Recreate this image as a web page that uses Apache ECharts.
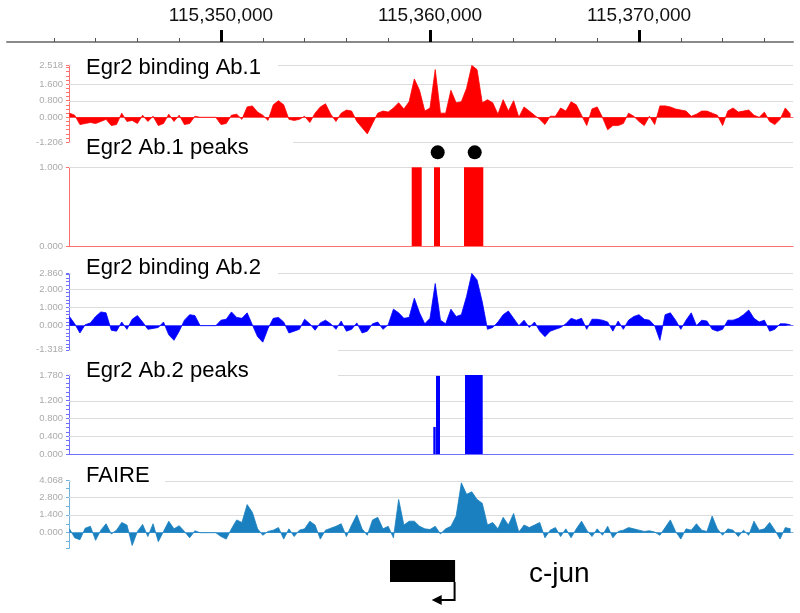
<!DOCTYPE html>
<html><head><meta charset="utf-8">
<script src="https://cdn.jsdelivr.net/npm/echarts@6/dist/echarts.min.js"></script>
<style>html,body{margin:0;padding:0;background:#fff}#c{width:800px;height:613px}</style>
</head><body><div id="c"></div>
<script>
// ---------- DATA ----------
const axisMajorTicks = [115350000, 115360000, 115370000];
const axisMinorTicks = [115342000,115344000,115346000,115348000,115352000,115354000,115356000,115358000,
  115362000,115364000,115366000,115368000,115372000,115374000,115376000];

const binStart = 115342750;   // first bin position (bp)
const binSize = 250;          // bp per bin

const signalAb1 = [
0.2,0.1,-0.35,-0.3,-0.25,-0.3,-0.2,-0.1,-0.4,-0.35,
0.2,-0.2,-0.15,-0.3,0.1,-0.2,0.05,-0.4,-0.3,0.15,
-0.2,0.1,-0.35,-0.3,0.05,0,0,0,0,-0.35,
-0.3,0.1,0.15,-0.1,0.5,0.55,0.25,0.1,-0.15,0.6,
0.8,0.6,-0.1,-0.15,-0.1,0.05,-0.25,0.2,0.5,0.65,
0.15,-0.2,0.2,0.35,0.3,-0.2,-0.5,-0.8,-0.3,0.2,
0.3,0.25,0.45,0.7,0.4,0.75,1.85,1.3,0.3,0.45,
2.3,0.2,0.2,1.3,0.7,0.75,1.4,2.5,2.3,0.7,
0.85,0.7,0.15,0.85,0.3,0.8,0,0.5,0.3,0.1,
-0.1,-0.35,0.05,0.05,0.45,0.3,0.75,0.6,0.1,-0.4,
0.4,0.5,0,-0.6,-0.4,-0.4,-0.3,0.2,0.05,-0.2,
-0.4,0.05,-0.35,0.55,0.55,0.5,0.4,0.35,0.3,0.05,
0.15,0.3,0.3,0.2,0.1,-0.4,0.3,0.45,0.25,0.3,
0.35,0.1,0,0.25,-0.2,-0.35,-0.1,0.45,0.15];

const signalAb2 = [
0.5,0.1,-0.4,0.05,0.15,0.5,0.75,0.7,-0.25,-0.3,
0.2,-0.2,0.35,0.55,0.2,-0.2,-0.15,-0.1,0.2,-0.5,
-0.8,-0.3,0.3,0.6,0.55,0,0,0,0,0.3,
0.35,0.75,0.45,0.4,0.7,0.05,-0.6,-0.9,-0.15,0.4,
0.45,0.2,-0.4,-0.3,-0.2,0.35,0.1,-0.25,0.15,0.3,
0.1,-0.2,0.25,-0.3,-0.2,0.15,-0.4,-0.3,0.1,0.2,
-0.2,0.05,0.9,0.7,0.4,0.45,1.5,0.7,0.1,0.4,
2.3,0.3,0.1,0.9,0.5,0.6,1.6,2.85,2.5,1.3,
-0.2,-0.1,0.2,0.6,0.8,0.4,0,0.3,-0.1,0.2,
-0.3,-0.6,-0.3,-0.2,-0.1,0.1,0.4,0.3,0.4,-0.2,
0.35,0.35,0.3,0.2,-0.3,0.25,-0.2,0.3,0.5,0.6,
0.35,0.3,0,-0.8,0.6,0.7,0.3,-0.2,0.3,0.7,
0,0.3,0.25,-0.2,-0.3,-0.2,0.3,0.3,0.4,0.6,
0.85,0.4,0.2,0.3,-0.3,-0.2,0.1,0.1,0.05];

const signalFaire = [
0.3,-0.4,-0.55,0.35,0.5,-0.6,0.2,0.7,-0.1,0.2,
0.8,0.6,-1.0,0.1,0.65,-0.3,0.7,-0.7,0.1,0.9,
0.3,0.55,0.1,-0.4,0.15,0,0,0,0,-0.3,
-0.5,0.3,1.0,0.8,2.2,1.6,0.3,-0.2,0.1,0.2,
0.4,-0.5,0.3,-0.3,0.2,0.3,0.9,0.6,-0.5,0.2,
0.35,0.5,0.7,-0.3,0.6,1.4,0.3,-0.2,1.0,1.2,
0.3,0.5,-0.4,2.6,0.6,0.9,0.9,0.5,0.3,0.25,
0.5,-0.1,0.3,0.5,1.3,3.9,3.0,3.2,2.6,2.3,
0.6,0.8,0.3,1.2,0.6,1.5,0.05,0.6,0.4,0.6,
0.8,-0.4,0.2,0.4,-0.3,0.3,-0.4,0.3,0.9,0.2,
-0.3,0.3,-0.2,0.5,-0.4,0.1,0.2,0.4,0.3,0.2,
0.1,0.15,0.05,-0.2,0.4,1.0,0.1,-0.5,0.3,0.2,
0.7,0.2,0.1,1.3,0.3,-0.2,0.3,0.2,-0.3,0.2,
-0.2,0.9,0.2,0.3,0.8,0.2,-0.5,0.4,0.3];

// peaks: start, end, height
const peaksAb1Start = [115359124, 115360191, 115361627];
const peaksAb1End   = [115359603, 115360478, 115362550];
const peaksAb1Value = [1, 1, 1];
const peaksAb2Start = [115360158, 115360287, 115361675];
const peaksAb2End   = [115360273, 115360478, 115362522];
const peaksAb2Value = [0.61, 1.76, 1.78];
const peakDotsX = [115360368, 115362139];
const peakDotsY = [1.19, 1.19];

// gene
const geneStart = 115358086, geneEnd = 115361200, tssArrowTip = 115360081;
const geneName = 'c-jun';

// axis labels / ticks
const ab1Labels = [-1.206, 0, 0.8, 1.6, 2.518];
const ab1Ticks = [-1.206,-1.0,-0.8,-0.6,-0.4,-0.2,0,0.2,0.4,0.6,0.8,1.0,1.2,1.4,1.6,1.8,2.0,2.2,2.4,2.518];
const pk1Labels = [0, 1];
const pk1Ticks = [0, 1];
const ab2Labels = [-1.318, 0, 1, 2, 2.86];
const ab2Ticks = [-1.318,-1.2,-1.0,-0.8,-0.6,-0.4,-0.2,0,0.2,0.4,0.6,0.8,1.0,1.2,1.4,1.6,1.8,2.0,2.2,2.4,2.6,2.8,2.86];
const pk2Labels = [0, 0.4, 0.8, 1.2, 1.78];
const pk2Ticks = [0,0.1,0.2,0.3,0.4,0.5,0.6,0.7,0.8,0.9,1.0,1.1,1.2,1.3,1.4,1.5,1.6,1.7,1.78];
const faireLabels = [0, 1.4, 2.8, 4.068];
const faireTicks = [-1.22,-0.7,0,0.7,1.4,2.1,2.8,3.5,4.068];

const trackTitles = ['Egr2 binding Ab.1','Egr2 Ab.1 peaks','Egr2 binding Ab.2','Egr2 Ab.2 peaks','FAIRE'];

// ---------- LAYOUT ----------
const FONT = '"Liberation Sans", Arial, sans-serif';
const X_MIN = 115342727, X_MAX = 115377368, TOP_MIN = 115339761;
const tracks = [
  {top:65.1, bottom:142.3, min:-1.206, max:2.518, color:'#ff0000', axisColor:'#ff7070', labels:ab1Labels, ticks:ab1Ticks, grid:[2.518,1.6,0.8,-1.206],
   box:{x:71,y:55,w:207,h:25}, titleY:68},
  {top:167.3, bottom:246, min:0, max:1, color:'#ff0000', axisColor:'#ff7070', labels:pk1Labels, ticks:pk1Ticks, grid:[1],
   box:{x:71,y:133,w:222,h:27}, titleY:147.5},
  {top:273.3, bottom:349.8, min:-1.318, max:2.86, color:'#0000ff', axisColor:'#7070ff', labels:ab2Labels, ticks:ab2Ticks, grid:[2.86,2,1,-1.318],
   box:{x:71,y:256,w:207,h:26}, titleY:268},
  {top:375, bottom:454, min:0, max:1.78, color:'#0000ff', axisColor:'#7070ff', labels:pk2Labels, ticks:pk2Ticks, grid:[1.78,1.2,0.8,0.4],
   box:{x:71,y:346,w:267,h:42}, titleY:370.5},
  {top:480.7, bottom:548.3, min:-1.22, max:4.068, color:'#1a80c0', axisColor:'#6fb0dd', labels:faireLabels, ticks:faireTicks, grid:[4.068,2.8,1.4],
   box:{x:71,y:463,w:94,h:26}, titleY:475.5}
];

const grids = [{left:7, right:7, top:42, height:10}];
const xAxes = [
  {gridIndex:0, type:'value', position:'top', min:TOP_MIN, max:X_MAX,
   axisLine:{show:true, onZero:false, lineStyle:{color:'#8a8a8a', width:2}},
   axisTick:{show:true, customValues:axisMajorTicks, length:12, lineStyle:{color:'#000', width:3}},
   axisLabel:{show:true, customValues:axisMajorTicks, margin:17, fontSize:19, color:'#111', fontFamily:FONT,
     formatter:v=>Number(v).toLocaleString('en-US')},
   splitLine:{show:false}},
  {gridIndex:0, type:'value', position:'top', min:TOP_MIN, max:X_MAX,
   axisLine:{show:false, onZero:false},
   axisTick:{show:true, customValues:axisMinorTicks, length:4, lineStyle:{color:'#555', width:1}},
   axisLabel:{show:false}, splitLine:{show:false}}
];
const yAxes = [{gridIndex:0, type:'value', min:0, max:1, show:false}];
const series = [];

tracks.forEach((t, k) => {
  const gi = k + 1;
  grids.push({left:69, right:7, top:t.top, height:t.bottom - t.top});
  xAxes.push({gridIndex:gi, type:'value', min:X_MIN, max:X_MAX,
    axisLine:{show:true, onZero:true, lineStyle:{color:t.axisColor, width:1}},
    axisTick:{show:false}, axisLabel:{show:false}, splitLine:{show:false}});
  yAxes.push({gridIndex:gi, type:'value', min:t.min, max:t.max,
    axisLine:{show:true, onZero:false, lineStyle:{color:t.axisColor, width:1}},
    axisTick:{show:true, customValues:t.ticks, length:3, lineStyle:{color:t.axisColor, width:1}},
    axisLabel:{show:true, customValues:t.labels, margin:6, fontSize:9.5, color:'#aaa', fontFamily:FONT,
      formatter:v=>Number(v).toFixed(3)},
    splitLine:{show:false}});
  // gridlines
  series.push({type:'custom', xAxisIndex:gi+1, yAxisIndex:gi, z:1, silent:true,
    data:t.grid.map(v=>[X_MIN, v]), encode:{x:0, y:1}, clip:false,
    renderItem:(p, api)=>{
      const a = api.coord([X_MIN, api.value(1)]), b = api.coord([X_MAX, api.value(1)]);
      return {type:'line', shape:{x1:a[0], y1:Math.round(a[1])+0.5, x2:b[0], y2:Math.round(a[1])+0.5}, style:{stroke:'#dcdcdc', lineWidth:1}};
    }});
});

function signalSeries(arr, k){
  const t = tracks[k];
  return {type:'line', xAxisIndex:k+2, yAxisIndex:k+1, z:2, symbol:'none', smooth:false, silent:true,
    data:arr.map((v,i)=>[binStart + i*binSize, v]),
    lineStyle:{color:t.color, width:0.8}, areaStyle:{color:t.color, opacity:1, origin:0}};
}
function peakSeries(starts, ends, vals, k){
  const t = tracks[k];
  return {type:'custom', xAxisIndex:k+2, yAxisIndex:k+1, z:2, silent:true,
    data:starts.map((s,i)=>[s, ends[i], vals[i]]), encode:{x:[0,1], y:2},
    renderItem:(p, api)=>{
      const a = api.coord([api.value(0), api.value(2)]), b = api.coord([api.value(1), 0]);
      return {type:'rect', shape:{x:a[0], y:a[1], width:b[0]-a[0], height:b[1]-a[1]}, style:{fill:t.color}};
    }};
}
series.push(signalSeries(signalAb1, 0));
series.push(peakSeries(peaksAb1Start, peaksAb1End, peaksAb1Value, 1));
series.push(signalSeries(signalAb2, 2));
series.push(peakSeries(peaksAb2Start, peaksAb2End, peaksAb2Value, 3));
series.push(signalSeries(signalFaire, 4));
series.push({type:'scatter', xAxisIndex:3, yAxisIndex:2, z:5, clip:false, silent:true, symbol:'circle', symbolSize:14,
  itemStyle:{color:'#000', opacity:1}, data:peakDotsX.map((x,i)=>[x, peakDotsY[i]])});

// gene track
grids.push({left:69, right:7, top:555, height:50});
xAxes.push({gridIndex:6, type:'value', min:X_MIN, max:X_MAX, show:false});
yAxes.push({gridIndex:6, type:'value', min:0, max:1, show:false});
series.push({type:'custom', xAxisIndex:7, yAxisIndex:6, z:5, silent:true, clip:false,
  data:[[geneStart, geneEnd, tssArrowTip]], encode:{x:[0,1,2]},
  renderItem:(p, api)=>{
    const a = api.coord([api.value(0), 0.9]), b = api.coord([api.value(1), 0.46]);
    const c = api.coord([api.value(1), 0.1]), t = api.coord([api.value(2), 0.1]);
    return {type:'group', children:[
      {type:'rect', shape:{x:a[0], y:a[1], width:b[0]-a[0], height:b[1]-a[1]}, style:{fill:'#000'}},
      {type:'polyline', shape:{points:[[b[0]-0.5, b[1]], [c[0]-0.5, c[1]], [t[0]+6, t[1]]]}, style:{stroke:'#000', lineWidth:2, fill:null}},
      {type:'polygon', shape:{points:[[t[0], t[1]], [t[0]+10, t[1]-5], [t[0]+10, t[1]+5]]}, style:{fill:'#000'}}
    ]};
  }});

// titles
const graphic = [];
tracks.forEach((t, k) => {
  graphic.push({type:'rect', z:100, shape:{x:t.box.x, y:t.box.y, width:t.box.w, height:t.box.h}, style:{fill:'#fff'}, silent:true});
  graphic.push({type:'text', z:101, x:86, y:t.titleY, silent:true,
    style:{text:trackTitles[k], fontSize:22, fontFamily:FONT, fill:'#000', verticalAlign:'middle', align:'left'}});
});
graphic.push({type:'text', z:101, x:529, y:574, silent:true,
  style:{text:geneName, fontSize:28, fontFamily:FONT, fill:'#000', verticalAlign:'middle', align:'left'}});

const chart = echarts.init(document.getElementById('c'));
chart.setOption({animation:false, backgroundColor:'#fff', grid:grids, xAxis:xAxes, yAxis:yAxes, series:series, graphic:graphic});
</script></body></html>
